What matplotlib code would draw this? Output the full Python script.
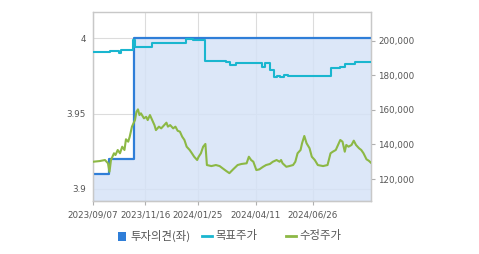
import matplotlib
matplotlib.use("Agg")
import matplotlib.pyplot as plt
from matplotlib.patches import Rectangle
from matplotlib.lines import Line2D
from matplotlib.ticker import FuncFormatter
import pandas as pd

# ---------------- data ----------------
start_date = "2023-09-07"
end_date = "2024-09-12"

opinion_dates = ["2023-09-07", "2023-09-28", "2023-11-01", "2024-09-12"]
opinion_vals = [3.91, 3.92, 4.0, 4.0]

target_dates = ["2023-09-07", "2023-09-30", "2023-10-12", "2023-10-14", "2023-10-30",
                "2023-11-02", "2023-11-25", "2024-01-09", "2024-01-18", "2024-02-04",
                "2024-03-03", "2024-03-08", "2024-03-16", "2024-04-19", "2024-04-23",
                "2024-04-30", "2024-05-05", "2024-05-09", "2024-05-14", "2024-05-19",
                "2024-05-24", "2024-07-20", "2024-08-01", "2024-08-08", "2024-08-21",
                "2024-09-12"]
target_vals = [193600, 194300, 193000, 194400, 200500,
               196500, 198800, 201000, 200400, 188400,
               187800, 186000, 186900, 185000, 187300,
               183000, 178800, 179800, 179100, 180200,
               179400, 184000, 185000, 186400, 187500,
               187500]

# adjusted price: days after start_date, and price
price_days = [0, 9, 16, 20, 22, 24, 28, 30, 33, 36,
              39, 42, 44, 47, 49, 52, 56, 58, 60, 62,
              64, 68, 71, 73, 76, 79, 82, 84, 88, 91,
              94, 98, 100, 103, 107, 110, 113, 116, 119, 122,
              125, 129, 132, 135, 139, 141, 144, 147, 150, 152,
              158, 164, 169, 173, 178, 182, 187, 193, 198, 205,
              208, 211, 214, 218, 222, 227, 231, 236, 240, 245,
              249, 251, 253, 258, 262, 267, 270, 273, 277, 279,
              282, 285, 289, 292, 296, 300, 307, 313, 317, 320,
              324, 327, 330, 333, 336, 338, 341, 345, 348, 351,
              355, 358, 361, 365, 368, 371]
price_vals = [130000, 130400, 131000, 129100, 124200, 131000, 134900, 133900, 136800, 134900,
              138700, 136800, 143000, 141600, 144500, 150300, 154100, 158900, 160300, 157000,
              158000, 155100, 156000, 154100, 157000, 154100, 151200, 148300, 150300, 149300,
              150700, 152600, 150300, 151200, 149300, 150300, 147900, 147400, 144500, 142600,
              138700, 136800, 134900, 132900, 131000, 132900, 134900, 138700, 140300, 128100,
              127500, 128100, 127500, 126200, 124600, 123400, 125600, 128100, 128700, 129100,
              132900, 131000, 130000, 125200, 125600, 127100, 128100, 128700, 130000, 131000,
              130000, 131000, 129100, 127100, 127500, 128100, 130000, 134900, 136800, 140700,
              144900, 140700, 137800, 132900, 131000, 128100, 127500, 128100, 134900, 135800,
              136800, 139700, 142600, 141600, 135800, 139700, 138700, 139700, 142200, 139700,
              137800, 136800, 134900, 131400, 130600, 129400]

x_ticks = ["2023-09-07", "2023-11-16", "2024-01-25", "2024-04-11", "2024-06-26"]
x_tick_labels = ["2023/09/07", "2023/11/16", "2024/01/25", "2024/04/11", "2024/06/26"]
left_ticks = [3.9, 3.95, 4.0]
left_tick_labels = ["3.9", "3.95", "4"]
right_ticks = [120000, 140000, 160000, 180000, 200000]

legend_labels = ["투자의견(좌)", "목표주가", "수정주가"]

# ---------------- style ----------------
plt.rcParams['font.family'] = ['DejaVu Sans']
BLUE = "#2f7ed8"
CYAN = "#1ab6cf"
GREEN = "#8cb845"
FILL = "#d6e3f7"
GRID = "#dcdcdc"
TXT = "#555555"

fig = plt.figure(figsize=(4.79, 2.54), dpi=100)
ax = fig.add_axes([93/479, 1-201/254, (371-93)/479, (201-12)/254])
ax2 = ax.twinx()

od = pd.to_datetime(opinion_dates)
td = pd.to_datetime(target_dates)
pdts = pd.Timestamp(start_date) + pd.to_timedelta(price_days, unit="D")

y_lo, y_hi = 3.892, 4.0176
ax.set_ylim(y_lo, y_hi)
ax2.set_ylim(107300, 216600)
ax.set_xlim(pd.Timestamp(start_date), pd.Timestamp(end_date))

ax.fill_between(od, opinion_vals, y_lo, step="post", color=FILL, alpha=0.85, lw=0, zorder=1)
ax.plot(od, opinion_vals, drawstyle="steps-post", color=BLUE, lw=1.6, zorder=3)
ax2.plot(td, target_vals, drawstyle="steps-post", color=CYAN, lw=1.5, zorder=3)
ax2.plot(pdts, price_vals, color=GREEN, lw=1.5, zorder=4)

ax.set_xticks(pd.to_datetime(x_ticks))
ax.set_xticklabels(x_tick_labels)
ax.set_yticks(left_ticks)
ax.set_yticklabels(left_tick_labels)
ax.grid(True, color=GRID, lw=0.8, zorder=0)
ax.set_axisbelow(True)

ax2.set_yticks(right_ticks)
ax2.yaxis.set_major_formatter(FuncFormatter(lambda v, p: f"{int(v):,}"))

for a in (ax, ax2):
    for s in a.spines.values():
        s.set_color("#c8c8c8")
        s.set_linewidth(0.9)
ax.spines["bottom"].set_color("#b0b0b0")
ax.spines["top"].set_color("#dddddd")

ax.tick_params(axis="x", length=3, width=0.8, color="#b0b0b0", labelsize=6.3, labelcolor=TXT, pad=4)
ax.tick_params(axis="y", length=0, labelsize=6.3, labelcolor=TXT, pad=5)
ax2.tick_params(axis="y", length=3, width=0.8, color="#b0b0b0", labelsize=6.3, labelcolor=TXT, pad=2)

# legend (manual, figure coords)
W, H = 479, 254
ly = 236
cjk = ["Noto Sans CJK KR", "DejaVu Sans"]
fig.patches.append(Rectangle((118/W, 1-(ly+4.5)/H), 8/W, 9/H, transform=fig.transFigure,
                             facecolor=BLUE, edgecolor="none"))
fig.text(130/W, 1-ly/H, legend_labels[0], fontsize=8.2, color=TXT, va="center", ha="left", family=cjk)
fig.lines.append(Line2D([202/W, 212/W], [1-ly/H, 1-ly/H], transform=fig.transFigure, color=CYAN, lw=2))
fig.text(215/W, 1-ly/H, legend_labels[1], fontsize=8.2, color=TXT, va="center", ha="left", family=cjk)
fig.lines.append(Line2D([286/W, 296/W], [1-ly/H, 1-ly/H], transform=fig.transFigure, color=GREEN, lw=2))
fig.text(299/W, 1-ly/H, legend_labels[2], fontsize=8.2, color=TXT, va="center", ha="left", family=cjk)

fig.savefig("out.png", dpi=100)
